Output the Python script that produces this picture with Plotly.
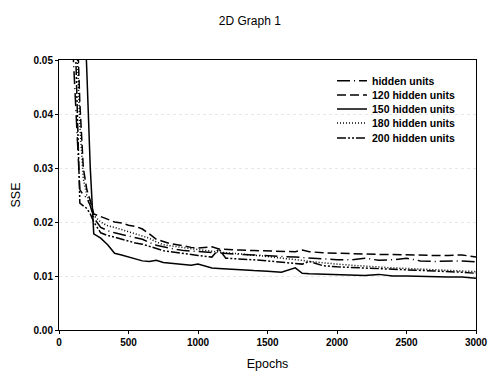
import plotly.graph_objects as go

epochs = [100, 125, 150, 175, 200, 225, 250, 300, 350, 400, 450, 500, 550, 600, 650, 700, 750, 800, 850, 900, 950,
          1000, 1100, 1150, 1200, 1300, 1400, 1500, 1600, 1700, 1750, 1800, 1900, 2000, 2100, 2200, 2300, 2400,
          2500, 2600, 2700, 2800, 2900, 3000]

sse_hidden = [0.052, 0.040, 0.026, 0.025, 0.0245, 0.023, 0.0208, 0.0190, 0.0184, 0.0180, 0.0177, 0.0173, 0.0170,
              0.0168, 0.0162, 0.0157, 0.0154, 0.0151, 0.0149, 0.0147, 0.0146, 0.0146, 0.0143, 0.0142, 0.0141,
              0.0140, 0.0139, 0.0137, 0.0136, 0.0135, 0.0134, 0.0133, 0.0131, 0.0130, 0.0130, 0.0133, 0.0129,
              0.0130, 0.0133, 0.0128, 0.0127, 0.0127, 0.0128, 0.0126]
sse_120 = [0.080, 0.060, 0.042, 0.030, 0.026, 0.024, 0.0215, 0.0210, 0.0205, 0.0200, 0.0198, 0.0194, 0.0192,
           0.0187, 0.0178, 0.0168, 0.0164, 0.0160, 0.0158, 0.0155, 0.0153, 0.0152, 0.0154, 0.0150, 0.0149,
           0.0148, 0.0147, 0.0146, 0.0145, 0.0145, 0.0148, 0.0145, 0.0143, 0.0142, 0.0142, 0.0141, 0.0140,
           0.0140, 0.0139, 0.0139, 0.0138, 0.0138, 0.0139, 0.0135]
sse_150 = [0.140, 0.110, 0.085, 0.065, 0.048, 0.030, 0.0178, 0.0170, 0.0158, 0.0142, 0.0139, 0.0135, 0.0131,
           0.0128, 0.0127, 0.0129, 0.0125, 0.0124, 0.0123, 0.0121, 0.0120, 0.0122, 0.0115, 0.0114, 0.0113,
           0.0111, 0.0110, 0.0109, 0.0107, 0.0115, 0.0105, 0.0104, 0.0103, 0.0103, 0.0102, 0.0101, 0.0103,
           0.0100, 0.0100, 0.0099, 0.0099, 0.0098, 0.0098, 0.0096]
sse_180 = [0.075, 0.055, 0.038, 0.028, 0.025, 0.0235, 0.0212, 0.0200, 0.0193, 0.0190, 0.0186, 0.0183, 0.0178,
           0.0175, 0.0170, 0.0163, 0.0158, 0.0156, 0.0154, 0.0152, 0.0150, 0.0149, 0.0146, 0.0144, 0.0143,
           0.0141, 0.0139, 0.0136, 0.0133, 0.0131, 0.0129, 0.0127, 0.0124, 0.0122, 0.0120, 0.0118, 0.0116,
           0.0115, 0.0114, 0.0113, 0.0111, 0.0110, 0.0109, 0.0108]
sse_200 = [0.070, 0.045, 0.0235, 0.023, 0.0225, 0.0215, 0.0200, 0.0180, 0.0175, 0.0172, 0.0168, 0.0164, 0.0161,
           0.0159, 0.0155, 0.0150, 0.0147, 0.0145, 0.0143, 0.0141, 0.0139, 0.0138, 0.0135, 0.0150, 0.0133,
           0.0132, 0.0130, 0.0128, 0.0126, 0.0124, 0.0122, 0.0127, 0.0119, 0.0117, 0.0116, 0.0115, 0.0113,
           0.0112, 0.0111, 0.0110, 0.0109, 0.0108, 0.0107, 0.0105]

series_names = ["hidden units", "120 hidden units", "150 hidden units", "180 hidden units", "200 hidden units"]
series_values = [sse_hidden, sse_120, sse_150, sse_180, sse_200]
series_dash = ["13px,4px,1px,4px", "9px,4px", "solid", "1px,2px", "9px,2px,2px,2px,2px,2px"]

x_ticks = [0, 500, 1000, 1500, 2000, 2500, 3000]
y_ticks = [0.00, 0.01, 0.02, 0.03, 0.04, 0.05]

FONT = "Liberation Sans, Arial, sans-serif"

fig = go.Figure()
for name, vals, dash in zip(series_names, series_values, series_dash):
    fig.add_trace(go.Scatter(x=epochs, y=vals, mode="lines", name=name,
                             line=dict(color="black", width=1.5, dash=dash), showlegend=False))

# manual compact legend
row_y = [0.9233, 0.8704, 0.8185, 0.7667, 0.7111]
for name, dash, yy in zip(series_names, series_dash, row_y):
    fig.add_shape(type="line", xref="paper", yref="paper", x0=0.6667, x1=0.7386, y0=yy, y1=yy,
                  line=dict(color="black", width=1.5, dash=dash))
    fig.add_annotation(xref="paper", yref="paper", x=0.746, y=yy, text=name, showarrow=False,
                       xanchor="left", yanchor="middle",
                       font=dict(family=FONT, size=10.5, color="black", weight="bold"))

fig.update_layout(
    width=488, height=376,
    margin=dict(l=59, r=12, t=60, b=46, autoexpand=False),
    paper_bgcolor="white", plot_bgcolor="white",
    title=dict(text="2D Graph 1", x=0.512, xanchor="center", y=0.945, yanchor="middle",
               font=dict(family=FONT, size=12, color="black")),
    xaxis=dict(range=[0, 3000], tickvals=x_ticks, ticktext=[str(v) for v in x_ticks], automargin=False,
               showline=True, linecolor="black", linewidth=1, mirror=True,
               ticks="outside", ticklen=3, tickcolor="black", showgrid=False, zeroline=False,
               tickfont=dict(family=FONT, size=10, color="black", weight="bold"),
               title=dict(text="Epochs", font=dict(family=FONT, size=12.5, color="black"), standoff=12)),
    yaxis=dict(range=[0, 0.05], tickvals=y_ticks, ticktext=["%.2f" % v for v in y_ticks], automargin=False,
               showline=True, linecolor="black", linewidth=1, mirror=True,
               ticks="outside", ticklen=3, tickcolor="black",
               showgrid=True, gridcolor="#e6e6e6", griddash="dot", gridwidth=1, zeroline=False,
               tickfont=dict(family=FONT, size=10, color="black", weight="bold"),
               title=dict(text="SSE", font=dict(family=FONT, size=12.5, color="black"), standoff=10)),
)

fig.write_html("out.html")
